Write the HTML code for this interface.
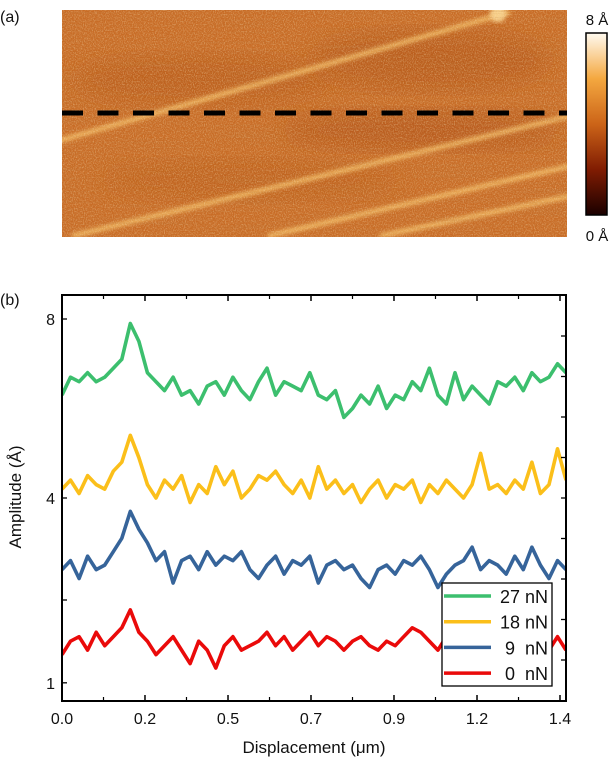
<!DOCTYPE html>
<html><head><meta charset="utf-8"><style>
body{margin:0;background:#fff;width:613px;height:778px;overflow:hidden;font-family:"Liberation Sans",sans-serif}
svg{display:block}
text{font-family:"Liberation Sans",sans-serif;fill:#111}
</style></head><body>
<svg id="fig" width="613" height="778">
<defs>
<filter id="noise" x="0" y="0" width="100%" height="100%">
<feTurbulence type="fractalNoise" baseFrequency="0.9 0.7" numOctaves="2" seed="3"/>
<feColorMatrix type="matrix" values="0 0 0 0 1  0 0 0 0 0.85  0 0 0 0 0.55  0 0 0 1.6 -0.7"/>
</filter>
<filter id="scan" x="0" y="0" width="100%" height="100%">
<feTurbulence type="fractalNoise" baseFrequency="0.01 0.8" numOctaves="1" seed="7"/>
<feColorMatrix type="matrix" values="0 0 0 0 0.5  0 0 0 0 0.2  0 0 0 0 0.05  0 0 0 1.4 -0.6"/>
</filter>
<filter id="blur"><feGaussianBlur stdDeviation="2"/></filter>
<filter id="blur2"><feGaussianBlur stdDeviation="12"/></filter>
<linearGradient id="cbar" x1="0" y1="1" x2="0" y2="0">
<stop offset="0" stop-color="#1a0000"/><stop offset="0.25" stop-color="#801c02"/>
<stop offset="0.5" stop-color="#cc6418"/><stop offset="0.75" stop-color="#f4a840"/>
<stop offset="1" stop-color="#fffaf0"/></linearGradient>
<clipPath id="imgclip"><rect x="62" y="10" width="505" height="227"/></clipPath>
<clipPath id="plotclip"><rect x="62" y="295" width="504" height="406"/></clipPath>
</defs>
<text x="0" y="22" font-size="16">(a)</text>
<g clip-path="url(#imgclip)">
<rect x="62" y="10" width="505" height="227" fill="#c86c26"/>
<ellipse cx="200" cy="80" rx="130" ry="25" fill="#b45616" opacity="0.5" filter="url(#blur2)"/>
<ellipse cx="430" cy="60" rx="120" ry="30" fill="#b05214" opacity="0.55" filter="url(#blur2)"/>
<ellipse cx="420" cy="130" rx="140" ry="20" fill="#ad5012" opacity="0.55" filter="url(#blur2)"/>
<ellipse cx="250" cy="180" rx="150" ry="20" fill="#b75a18" opacity="0.45" filter="url(#blur2)"/>
<g stroke="#f5bf68" stroke-width="4.5" filter="url(#blur)" opacity="0.95">
<line x1="55" y1="142" x2="510" y2="12"/>
<line x1="72" y1="236" x2="570" y2="116"/>
<line x1="268" y1="236" x2="570" y2="166"/>
<line x1="380" y1="236" x2="570" y2="196"/>
</g>
<circle cx="498" cy="14" r="8" fill="#f8d08a" filter="url(#blur)"/>
<rect x="62" y="10" width="505" height="227" filter="url(#scan)" opacity="0.5"/>
<rect x="62" y="10" width="505" height="227" filter="url(#noise)" opacity="0.6"/>
<line x1="62" y1="113" x2="567" y2="113" stroke="#000" stroke-width="5" stroke-dasharray="21 14.5"/>
</g>
<rect x="586" y="33" width="21" height="182" fill="url(#cbar)" stroke="#000" stroke-width="1.5"/>
<text x="597" y="25" font-size="15" text-anchor="middle">8 Å</text>
<text x="597" y="241" font-size="15" text-anchor="middle">0 Å</text>
<text x="0" y="305" font-size="16">(b)</text>
<g id="plot"></g>
</svg>
<script>
const seriesLabels = ["27 nN","18 nN","9  nN","0  nN"];
const seriesColors = ["#3cbf6e","#fbbf1a","#36649a","#ea0a0a"];
const green = [6.3,6.7,6.6,6.8,6.6,6.7,6.9,7.1,7.9,7.5,6.8,6.6,6.4,6.7,6.3,6.4,6.1,6.5,6.6,6.3,6.7,6.4,6.2,6.6,6.9,6.3,6.6,6.5,6.4,6.8,6.3,6.2,6.4,5.8,6.0,6.3,6.1,6.5,6.0,6.3,6.2,6.6,6.4,6.9,6.3,6.1,6.8,6.2,6.5,6.3,6.1,6.6,6.5,6.7,6.4,6.8,6.6,6.7,7.0,6.8];
const yellow = [4.2,4.4,4.1,4.5,4.3,4.2,4.6,4.8,5.4,4.9,4.3,4.0,4.4,4.2,4.5,3.9,4.3,4.1,4.7,4.3,4.6,4.0,4.2,4.5,4.4,4.6,4.3,4.1,4.4,4.0,4.7,4.2,4.4,4.1,4.3,3.9,4.2,4.4,4.0,4.3,4.2,4.4,3.9,4.3,4.1,4.4,4.2,4.0,4.3,5.0,4.2,4.3,4.1,4.4,4.2,4.8,4.1,4.3,5.1,4.4];
const blue = [2.4,2.6,2.2,2.7,2.4,2.5,2.8,3.1,3.7,3.3,3.0,2.6,2.8,2.1,2.6,2.7,2.4,2.8,2.5,2.7,2.6,2.8,2.4,2.2,2.5,2.7,2.3,2.6,2.5,2.7,2.1,2.5,2.6,2.4,2.5,2.2,2.0,2.4,2.5,2.3,2.6,2.5,2.7,2.4,2.0,2.3,2.5,2.6,2.9,2.4,2.6,2.5,2.3,2.7,2.4,2.9,2.5,2.2,2.6,2.4];
const red = [0.5,0.8,0.9,0.6,1.0,0.7,0.9,1.1,1.5,1.0,0.8,0.5,0.7,0.9,0.6,0.3,0.8,0.6,0.2,0.7,0.9,0.6,0.7,0.8,1.0,0.7,0.9,0.6,0.8,1.0,0.7,0.9,0.8,0.6,0.8,0.9,0.7,0.6,0.8,0.7,0.9,1.1,1.0,0.8,0.6,0.9,0.7,1.0,0.8,0.7,0.9,0.8,0.6,0.9,0.7,0.8,0.9,0.6,0.9,0.6];
const xTickVals = [0,0.2333,0.4667,0.7,0.9333,1.1667,1.4];
const xTickLabels = ["0.0","0.2","0.5","0.7","0.9","1.2","1.4"];
const yTickVals = [8,4,-0.13];
const yTickLabels = ["8","4","1"];
const xMax = 1.417;

const NS="http://www.w3.org/2000/svg";
const g=document.getElementById('plot');
const X0=62,X1=560,YT=295,YB=701,XR=566;
function xs(v){return X0+(v/1.4)*(X1-X0);}
function ys(v){return 498-(v-4)*44.75;}
function mk(tag,attrs,parent){const e=document.createElementNS(NS,tag);for(const k in attrs)e.setAttribute(k,attrs[k]);(parent||g).appendChild(e);return e;}

const data=[green,yellow,blue,red];
const lines=mk('g',{'clip-path':'url(#plotclip)'});
data.forEach((arr,si)=>{
  const n=arr.length;
  const pts=arr.map((v,i)=>xs(i*xMax/(n-1)).toFixed(1)+','+ys(v).toFixed(1)).join(' ');
  const p=mk('polyline',{points:pts,fill:'none',stroke:seriesColors[si],'stroke-width':3.6,'stroke-linejoin':'round'},lines);
  
  
});
const frame=mk('rect',{x:X0,y:YT,width:XR-X0,height:YB-YT,fill:'none',stroke:'#000','stroke-width':2});


xTickVals.forEach((v,i)=>{
  const x=xs(v);
  mk('line',{x1:x,y1:YB,x2:x,y2:YB-6,stroke:'#000','stroke-width':1.5});
  mk('line',{x1:x,y1:YT,x2:x,y2:YT+6,stroke:'#000','stroke-width':1.5});
  if(i<xTickVals.length-1){const xm=xs(v+0.11667);
    mk('line',{x1:xm,y1:YB,x2:xm,y2:YB-4,stroke:'#000','stroke-width':1.2});
    mk('line',{x1:xm,y1:YT,x2:xm,y2:YT+4,stroke:'#000','stroke-width':1.2});}
  const t=mk('text',{x:x,y:724,'font-size':16,'text-anchor':'middle'});
  t.textContent=xTickLabels[i];
  
  
});
yTickVals.forEach((v,i)=>{
  const y=ys(v);
  mk('line',{x1:X0,y1:y,x2:X0+5,y2:y,stroke:'#000','stroke-width':1.3});
  const t=mk('text',{x:55,y:y+6,'font-size':16,'text-anchor':'end'});
  t.textContent=yTickLabels[i];
  
  
});
for(let k=0;k<9;k++){const y=336+k*40.5;mk('line',{x1:XR,y1:y,x2:XR-5,y2:y,stroke:'#000','stroke-width':1.3});}
mk('line',{x1:X0,y1:600,x2:X0+5,y2:600,stroke:'#000','stroke-width':1.3});
const xt=mk('text',{x:314,y:753,'font-size':17,'text-anchor':'middle'});
xt.textContent='Displacement (μm)';


const yt=mk('text',{x:0,y:0,'font-size':17,'text-anchor':'middle',transform:'translate(21,497) rotate(-90)'});
yt.textContent='Amplitude (Å)';


const lg=mk('g',{});


mk('rect',{x:442,y:583,width:110,height:103,fill:'#fff',stroke:'#000','stroke-width':1.3},lg);
seriesLabels.forEach((s,i)=>{
  const y=596+i*25.7;
  const e=mk('g',{},lg);
  
  
  mk('line',{x1:444,y1:y,x2:491,y2:y,stroke:seriesColors[i],'stroke-width':3.5},e);
  const t=mk('text',{x:548,y:y+7,'font-size':18,'text-anchor':'end'},e);
  t.setAttribute('style','white-space:pre');
  t.textContent=s;
});
</script>
</body></html>
